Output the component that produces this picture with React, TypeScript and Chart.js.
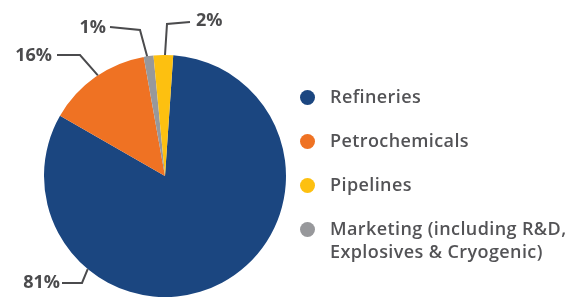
import React, { useEffect, useRef } from "react";
import { Chart, registerables } from "chart.js";

Chart.register(...registerables);

// Slice order as drawn clockwise from the top
const sliceLabels = ["Refineries", "Petrochemicals", "Marketing (including R&D, Explosives & Cryogenic)", "Pipelines"];
const sliceShares = [82.2, 13.9, 1.3, 2.6];
const sliceColors = ["#1b4680", "#ef7223", "#97989b", "#fdc010"];
const percentLabels = ["81%", "16%", "1%", "2%"];

// Legend order
const legendLines = [["Refineries"], ["Petrochemicals"], ["Pipelines"], ["Marketing (including R&D,", "Explosives & Cryogenic)"]];
const legendColors = ["#1b4680", "#ef7223", "#fdc010", "#97989b"];

// Callout layout: anchor angle (deg clockwise from top), elbow & text offsets relative to pie centre
const callouts = [
  { angle: 219.7, elbow: [-83, 107], end: [-103, 107], text: [-105, 107], align: "right" },
  { angle: 326.3, elbow: [-85, -121], end: [-108, -121], text: [-113, -120], align: "right" },
  { angle: 351.5, elbow: [-25, -146], end: [-55, -149], text: [-59, -148], align: "right" },
  { angle: 0.0, elbow: [2, -152], end: [25, -154], text: [31, -155], align: "left" },
];

const TEXT = "#4b4b4d";

const calloutPlugin = {
  id: "callouts",
  afterDatasetsDraw(chart: any) {
    const meta = chart.getDatasetMeta(0);
    const arc = meta.data[0];
    if (!arc) return;
    const { x, y, outerRadius } = arc.getProps(["x", "y", "outerRadius"], true);
    const ctx = chart.ctx;
    ctx.save();
    ctx.strokeStyle = TEXT;
    ctx.lineWidth = 2;
    ctx.fillStyle = TEXT;
    ctx.font = "bold 18px 'Open Sans'";
    ctx.textBaseline = "middle";
    callouts.forEach((c, i) => {
      const a = (c.angle * Math.PI) / 180;
      const ax = x + Math.sin(a) * outerRadius;
      const ay = y - Math.cos(a) * outerRadius;
      ctx.beginPath();
      ctx.moveTo(ax, ay);
      ctx.lineTo(x + c.elbow[0], y + c.elbow[1]);
      ctx.lineTo(x + c.end[0], y + c.end[1]);
      ctx.stroke();
      ctx.textAlign = c.align as CanvasTextAlign;
      ctx.fillText(percentLabels[i], x + c.text[0], y + c.text[1]);
    });
    ctx.restore();
  },
};

export default function App() {
  const ref = useRef<HTMLCanvasElement>(null);
  useEffect(() => {
    document.body.style.margin = "0";
    const chart = new Chart(ref.current!, {
      type: "pie",
      data: {
        labels: sliceLabels,
        datasets: [
          {
            data: sliceShares,
            backgroundColor: sliceColors,
            borderWidth: 0,
          },
        ],
      },
      options: {
        animation: false,
        responsive: false,
        rotation: 3.9,
        layout: { padding: { left: 44, top: 55, right: 289, bottom: 0 } },
        plugins: { legend: { display: false }, tooltip: { enabled: false } },
      },
      plugins: [calloutPlugin],
    });
    return () => chart.destroy();
  }, []);

  return (
    <div style={{ position: "fixed", left: 0, top: 0, width: 575, height: 297, background: "#fff" }}>
      <canvas ref={ref} width={575} height={297} style={{ position: "absolute", left: 0, top: 0 }} />
      {legendLines.map((lines, i) => {
        const cy = [97, 141, 185, 229][i];
        return (
          <div key={i}>
            <div
              style={{
                position: "absolute",
                left: 300,
                top: cy - 7,
                width: 15,
                height: 15,
                borderRadius: 8,
                background: legendColors[i],
              }}
            />
            {lines.map((t, j) => (
              <div
                key={j}
                style={{
                  position: "absolute",
                  left: 330,
                  top: cy - 13 + j * 23,
                  height: 24,
                  lineHeight: "24px",
                  font: "600 18px 'Open Sans'",
                  letterSpacing: "0.4px",
                  color: "#535356",
                  whiteSpace: "nowrap",
                }}
              >
                {t}
              </div>
            ))}
          </div>
        );
      })}
    </div>
  );
}
